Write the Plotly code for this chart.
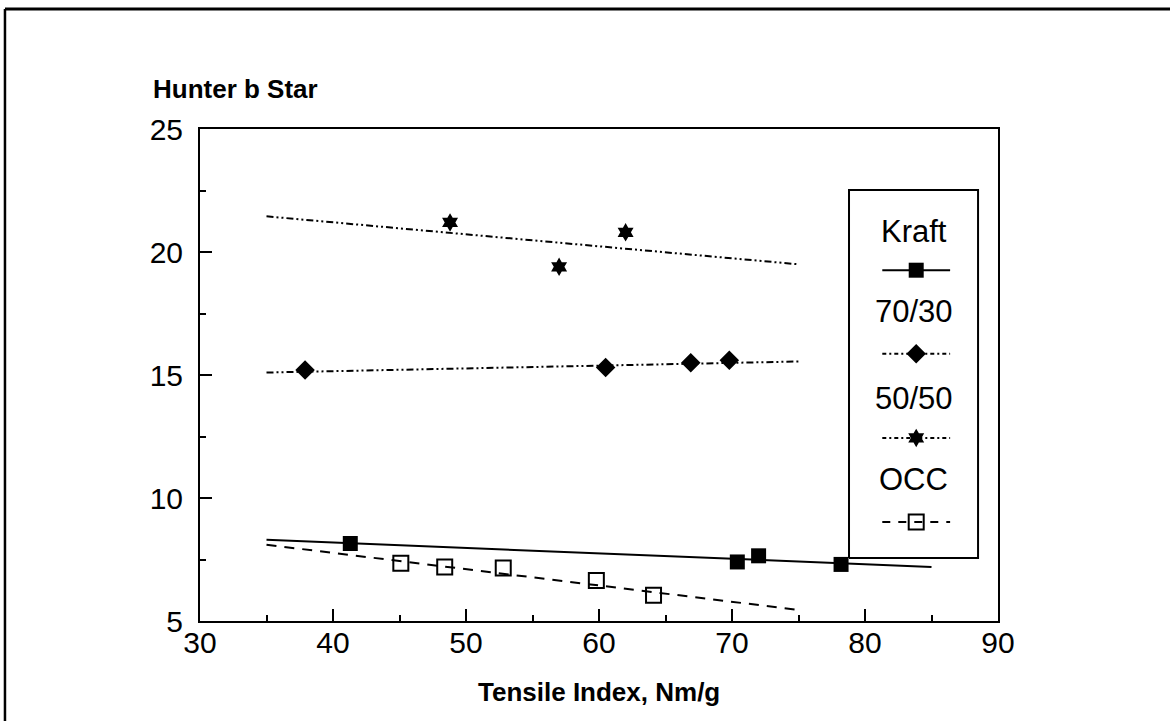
import plotly.graph_objects as go

# Measured points: Tensile Index (Nm/g) vs Hunter b*
kraft_x = [41.3, 70.4, 72.0, 78.2]
kraft_y = [8.15, 7.4, 7.65, 7.3]
b7030_x = [37.9, 60.5, 66.9, 69.8]
b7030_y = [15.2, 15.3, 15.5, 15.6]
b5050_x = [48.8, 57.0, 62.0]
b5050_y = [21.2, 19.4, 20.8]
occ_x = [45.1, 48.4, 52.8, 59.8, 64.1]
occ_y = [7.35, 7.2, 7.15, 6.65, 6.05]

# Linear fit lines (end points)
kraft_fit_x = [35, 85]
kraft_fit_y = [8.3, 7.2]
b7030_fit_x = [35, 75]
b7030_fit_y = [15.1, 15.55]
b5050_fit_x = [35, 75]
b5050_fit_y = [21.45, 19.5]
occ_fit_x = [35, 75]
occ_fit_y = [8.1, 5.45]

series_names = ["Kraft", "70/30", "50/50", "OCC"]
x_ticks = [30, 40, 50, 60, 70, 80, 90]
y_ticks = [5, 10, 15, 20, 25]

FONT = "Liberation Sans, Arial, sans-serif"
DOTDASH = "7px,3px,2px,3px,2px,3px"
DASH = "10px,8px"

fig = go.Figure()

# fit lines
fig.add_trace(go.Scatter(x=kraft_fit_x, y=kraft_fit_y, mode="lines",
                         line=dict(color="black", width=2)))
fig.add_trace(go.Scatter(x=b7030_fit_x, y=b7030_fit_y, mode="lines",
                         line=dict(color="black", width=2, dash=DOTDASH)))
fig.add_trace(go.Scatter(x=b5050_fit_x, y=b5050_fit_y, mode="lines",
                         line=dict(color="black", width=2, dash=DOTDASH)))
fig.add_trace(go.Scatter(x=occ_fit_x, y=occ_fit_y, mode="lines",
                         line=dict(color="black", width=2, dash=DASH)))

# data markers
fig.add_trace(go.Scatter(x=kraft_x, y=kraft_y, mode="markers",
                         marker=dict(symbol="square", size=15, color="black")))
fig.add_trace(go.Scatter(x=b7030_x, y=b7030_y, mode="markers",
                         marker=dict(symbol="diamond", size=15, color="black")))
fig.add_trace(go.Scatter(x=b5050_x, y=b5050_y, mode="markers",
                         marker=dict(symbol="hexagram", size=14, color="black")))
fig.add_trace(go.Scatter(x=occ_x, y=occ_y, mode="markers",
                         marker=dict(symbol="square-open", size=15, color="black",
                                     line=dict(width=2, color="black"))))

# legend panel drawn on an overlay frame (0..1 in both directions)
box_x0, box_x1, box_y0, box_y1 = 0.8133, 0.975, 0.128, 0.876
fig.add_trace(go.Scatter(x=[box_x0, box_x1, box_x1, box_x0, box_x0],
                         y=[box_y0, box_y0, box_y1, box_y1, box_y0],
                         mode="lines", fill="toself", fillcolor="white",
                         line=dict(color="black", width=2),
                         xaxis="x2", yaxis="y2"))

sample_x0, sample_x1 = 0.855, 0.940
sample_mid = (sample_x0 + sample_x1) / 2
sample_rows = [0.713, 0.543, 0.372, 0.201]
label_rows = [0.791, 0.630, 0.453, 0.287]
sample_lines = [dict(color="black", width=2),
                dict(color="black", width=2, dash="4px,3px,2px,3px"),
                dict(color="black", width=2, dash="4px,3px,2px,3px"),
                dict(color="black", width=2, dash="8px,8px")]
sample_markers = [dict(symbol="square", size=15, color="black"),
                  dict(symbol="diamond", size=15, color="black"),
                  dict(symbol="hexagram", size=14, color="black"),
                  dict(symbol="square-open", size=15, color="black",
                       line=dict(width=2, color="black"))]
for row, ln, mk in zip(sample_rows, sample_lines, sample_markers):
    fig.add_trace(go.Scatter(x=[sample_x0, sample_x1], y=[row, row], mode="lines",
                             line=ln, xaxis="x2", yaxis="y2"))
    fig.add_trace(go.Scatter(x=[sample_mid], y=[row], mode="markers",
                             marker=mk, xaxis="x2", yaxis="y2"))

annotations = []
for name, row in zip(series_names, label_rows):
    annotations.append(dict(x=(box_x0 + box_x1) / 2, y=row, xref="paper", yref="paper",
                            text=name, showarrow=False, xanchor="center", yanchor="middle",
                            font=dict(family=FONT, size=31, color="black")))

annotations.append(dict(x=-0.0615, y=1.082, xref="paper", yref="paper",
                        text="<b>Hunter b Star</b>", showarrow=False,
                        xanchor="left", yanchor="middle",
                        font=dict(family=FONT, size=26, color="black")))
annotations.append(dict(x=0.5, y=-0.1443, xref="paper", yref="paper",
                        text="<b>Tensile Index, Nm/g</b>", showarrow=False,
                        xanchor="center", yanchor="middle",
                        font=dict(family=FONT, size=26, color="black")))

# outer frame (top and left edges)
shapes = [
    dict(type="line", xref="paper", yref="paper", x0=-0.2444, x1=1.3, y0=1.2439, y1=1.2439,
         line=dict(color="black", width=3)),
    dict(type="line", xref="paper", yref="paper", x0=-0.2444, x1=-0.2444, y0=1.2439, y1=-0.3,
         line=dict(color="black", width=2.5)),
]

fig.update_layout(
    width=1170, height=721,
    margin=dict(l=200, r=172, t=129, b=100),
    paper_bgcolor="white", plot_bgcolor="white",
    showlegend=False,
    font=dict(family=FONT, color="black"),
    annotations=annotations,
    shapes=shapes,
    xaxis=dict(range=[30, 90], tickvals=x_ticks, ticks="inside", ticklen=12, tickwidth=1.5,
               tickcolor="black", showgrid=False, zeroline=False,
               showline=True, linecolor="black", linewidth=2, mirror=True,
               ticklabelstandoff=-6,
               minor=dict(dtick=5, ticks="inside", ticklen=6, tickwidth=1.5, tickcolor="black",
                          showgrid=False),
               tickfont=dict(family=FONT, size=30, color="black")),
    yaxis=dict(range=[5, 25], tickvals=y_ticks, ticks="inside", ticklen=12, tickwidth=1.5,
               tickcolor="black", showgrid=False, zeroline=False,
               showline=True, linecolor="black", linewidth=2, mirror=True,
               ticklabelstandoff=9,
               minor=dict(dtick=2.5, ticks="inside", ticklen=6, tickwidth=1.5, tickcolor="black",
                          showgrid=False),
               tickfont=dict(family=FONT, size=30, color="black")),
    xaxis2=dict(overlaying="x", range=[0, 1], visible=False, fixedrange=True),
    yaxis2=dict(overlaying="y", range=[0, 1], visible=False, fixedrange=True),
)

fig.write_html("out.html")
